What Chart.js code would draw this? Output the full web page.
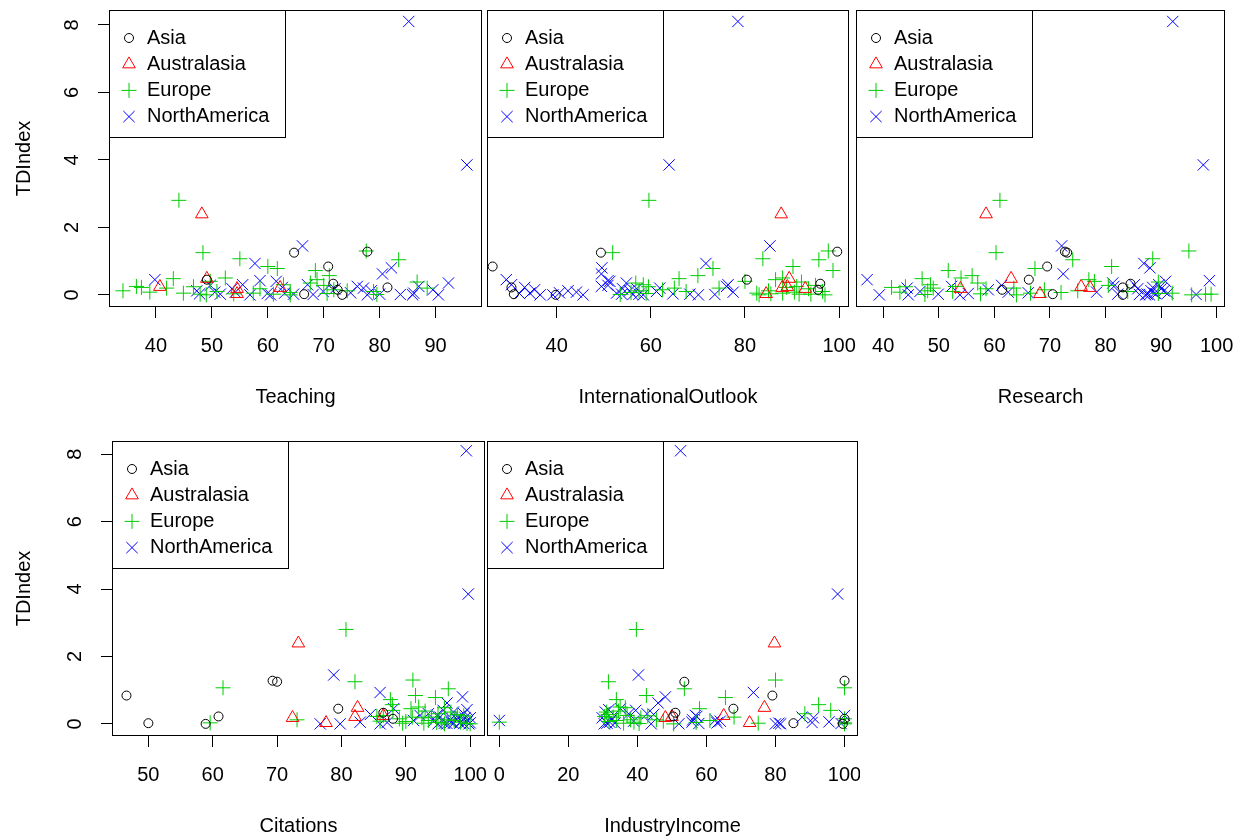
<!DOCTYPE html>
<html>
<head>
<meta charset="utf-8">
<script src="https://cdn.jsdelivr.net/npm/chart.js@4.4.1/dist/chart.umd.min.js"></script>
<style>
html, body { margin: 0; padding: 0; background: #fff; }
body { width: 1244px; height: 840px; position: relative; overflow: hidden; }
canvas { position: absolute; }
</style>
</head>
<body>
<canvas id="c1"></canvas>
<canvas id="c2"></canvas>
<canvas id="c3"></canvas>
<canvas id="c4"></canvas>
<canvas id="c5"></canvas>
<script>
// TDIndex against five THE scores, one point per university, by region
const regions = ['Asia', 'Australasia', 'Europe', 'NorthAmerica'];

const asiaTDIndex   = [1.28, 1.25, 0.84, 0.45, 0.33, 0.22, 0.15, 0.02, 0.00];
const asiaTeaching  = [77.8, 64.7, 70.8, 49.1, 71.7, 81.4, 72.5, 66.5, 73.3];
const asiaIntl      = [99.6, 49.4, 26.4, 80.4, 96.0, 30.4, 95.5, 30.9, 39.8];
const asiaResearch  = [72.7, 73.1, 69.5, 66.2, 84.5, 83.1, 61.4, 70.5, 83.1];
const asiaCitations = [69.3, 70.0, 46.6, 79.5, 86.5, 60.9, 88.0, 50.0, 58.9];
const asiaIndustry  = [100, 53.6, 79.1, 67.8, 51.0, 50.4, 100, 85.2, 99.5];

const ausTDIndex   = [2.39, 0.48, 0.24, 0.21, 0.18, 0.03];
const ausTeaching  = [48.2, 49.1, 40.7, 62.2, 54.5, 54.5];
const ausIntl      = [87.7, 89.4, 89.0, 87.9, 92.8, 84.5];
const ausResearch  = [58.5, 63.0, 75.6, 77.2, 53.9, 68.2];
const ausCitations = [73.3, 82.5, 86.5, 82.1, 72.4, 77.6];
const ausIndustry  = [79.7, 76.8, 65.0, 50.0, 48.1, 72.5];

const euTDIndex = [2.80, 1.30, 1.25, 1.07, 1.04, 0.84, 0.78, 0.72, 0.57, 0.50,
  0.48, 0.45, 0.40, 0.38, 0.35, 0.30, 0.28, 0.25, 0.24, 0.22,
  0.20, 0.20, 0.18, 0.15, 0.12, 0.12, 0.10, 0.10, 0.08, 0.07,
  0.05, 0.05, 0.04, 0.03, 0.02, 0.02, 0.01, 0.00, 0.00];
const euTeaching = [44.1, 77.6, 48.4, 55.0, 83.4, 60.0, 61.7, 68.5, 71.0, 52.4,
  43.1, 68.8, 49.7, 86.7, 67.6, 62.8, 70.0, 36.5, 46.7, 37.4,
  41.9, 88.5, 58.6, 71.8, 34.1, 74.2, 50.9, 78.9, 38.9, 64.0,
  44.9, 57.4, 70.6, 53.9, 61.0, 47.9, 79.5, 64.0, 49.0];
const euIntl = [59.6, 97.7, 51.9, 83.8, 95.7, 90.2, 73.2, 98.7, 70.0, 88.0,
  66.0, 86.5, 80.0, 92.0, 56.8, 58.4, 95.0, 91.0, 59.5, 88.8,
  65.0, 74.5, 93.5, 62.5, 85.0, 57.5, 67.5, 96.5, 90.5, 55.8,
  82.5, 88.0, 59.0, 85.5, 94.0, 91.5, 53.5, 83.0, 97.0];
const euResearch = [61.0, 95.0, 60.3, 88.5, 74.1, 81.1, 67.3, 51.7, 56.0, 54.0,
  47.0, 77.0, 78.0, 89.5, 57.0, 48.5, 80.5, 53.0, 44.0, 41.5,
  63.5, 49.0, 58.5, 69.0, 48.0, 75.0, 84.0, 52.5, 43.0, 72.0,
  66.5, 92.0, 89.5, 57.5, 99.0, 98.0, 47.5, 64.0, 95.5];
const euCitations = [80.7, 91.1, 82.1, 61.6, 96.6, 91.5, 94.6, 87.6, 87.9, 92.0,
  96.0, 90.8, 88.0, 93.0, 97.0, 95.0, 98.0, 86.5, 99.0, 85.5,
  94.0, 91.0, 92.5, 89.0, 96.5, 73.1, 93.5, 97.5, 86.0, 90.0,
  95.5, 98.5, 94.8, 59.6, 89.5, 92.8, 99.5, 96.0, 100];
const euIndustry = [39.7, 80.0, 31.6, 100, 53.6, 42.6, 65.5, 33.9, 92.5, 35.0,
  36.5, 58.0, 96.0, 34.5, 31.0, 88.5, 31.5, 37.0, 43.0, 30.5,
  68.0, 33.0, 41.0, 100, 38.0, 45.5, 34.0, 61.0, 47.5, 31.8,
  0.0, 39.0, 57.0, 100, 36.0, 75.0, 40.5, 50.5, 100];

const naTDIndex = [8.10, 3.85, 1.45, 0.93, 0.80, 0.62, 0.45, 0.42, 0.35, 0.30,
  0.28, 0.25, 0.22, 0.20, 0.18, 0.15, 0.12, 0.10, 0.08, 0.06,
  0.05, 0.04, 0.03, 0.02, 0.02, 0.01, 0.01, 0.00, 0.00, 0.00,
  0.00, 0.05, 0.12, 0.18, 0.30, 0.08, 0.02, 0.25, 0.40, 0.00];
const naTeaching = [85.2, 95.6, 66.2, 57.7, 82.1, 80.5, 39.8, 58.6, 92.3, 67.1,
  49.7, 76.0, 62.6, 77.1, 53.6, 89.5, 47.3, 69.9, 54.2, 74.8,
  86.1, 59.9, 47.8, 64.6, 51.5, 83.7, 68.1, 85.9, 56.8, 77.8,
  60.5, 63.0, 78.5, 72.0, 55.5, 50.5, 80.0, 87.0, 61.5, 90.5];
const naIntl = [78.5, 63.9, 85.3, 71.7, 49.6, 49.5, 29.3, 50.9, 54.8, 30.4,
  50.9, 76.1, 33.2, 61.9, 57.0, 35.3, 42.4, 61.2, 44.2, 40.6,
  52.7, 32.1, 64.7, 68.3, 53.8, 73.6, 56.2, 39.2, 45.6, 70.1,
  58.4, 34.3, 55.5, 54.0, 76.4, 77.5, 57.5, 49.5, 51.3, 36.5];
const naResearch = [92.1, 97.6, 72.1, 86.9, 88.0, 72.4, 37.1, 98.7, 81.3, 85.2,
  61.3, 52.3, 88.5, 44.3, 90.0, 58.9, 88.2, 46.6, 78.4, 66.1,
  91.2, 55.3, 89.1, 49.9, 82.2, 86.1, 96.3, 53.8, 39.3, 44.5,
  87.9, 88.8, 90.5, 85.8, 89.6, 62.5, 87.5, 81.5, 90.8, 87.2];
const naCitations = [99.4, 99.7, 78.8, 86.0, 98.8, 96.4, 88.1, 99.5, 97.4, 99.0,
  84.5, 92.2, 98.4, 95.3, 100, 97.9, 96.9, 91.2, 94.3, 99.5,
  82.9, 87.1, 100, 98.4, 97.4, 96.4, 99.0, 76.7, 79.8, 86.0,
  95.0, 97.0, 98.0, 99.2, 93.5, 98.6, 96.0, 94.8, 95.8, 99.8];
const naIndustry = [52.5, 98.0, 40.3, 73.6, 48.1, 46.0, 35.1, 31.7, 30.7, 42.8,
  44.7, 56.8, 57.2, 87.7, 29.8, 32.7, 62.6, 0.0, 38.9, 95.5,
  55.8, 90.6, 63.1, 81.0, 31.2, 99.0, 57.8, 30.4, 80.0, 44.0,
  52.0, 32.0, 56.0, 91.0, 37.5, 64.0, 33.5, 100, 39.5, 81.5];

const teachingTicks = [40, 50, 60, 70, 80, 90];
const intlTicks = [40, 60, 80, 100];
const researchTicks = [40, 50, 60, 70, 80, 90, 100];
const citationsTicks = [50, 60, 70, 80, 90, 100];
const industryTicks = [0, 20, 40, 60, 80, 100];
const tdTicks = [0, 2, 4, 6, 8];

const series = [
  {TDIndex: asiaTDIndex, Teaching: asiaTeaching, InternationalOutlook: asiaIntl,
   Research: asiaResearch, Citations: asiaCitations, IndustryIncome: asiaIndustry},
  {TDIndex: ausTDIndex, Teaching: ausTeaching, InternationalOutlook: ausIntl,
   Research: ausResearch, Citations: ausCitations, IndustryIncome: ausIndustry},
  {TDIndex: euTDIndex, Teaching: euTeaching, InternationalOutlook: euIntl,
   Research: euResearch, Citations: euCitations, IndustryIncome: euIndustry},
  {TDIndex: naTDIndex, Teaching: naTeaching, InternationalOutlook: naIntl,
   Research: naResearch, Citations: naCitations, IndustryIncome: naIndustry}
];

// R base palette look
const colors = ['#000000', '#FF0000', '#00CD00', '#0000FF'];
const shapes = ['circle', 'triangle', 'cross', 'crossRot'];
const radii = [4.5, 7.3, 7.5, 8];
const FONT = "'Liberation Sans', Arial, sans-serif";

const rFrame = {
  id: 'rFrame',
  afterDraw(chart) {
    const {ctx, chartArea: a} = chart;
    ctx.save();
    ctx.strokeStyle = '#000';
    ctx.lineWidth = 1;
    ctx.strokeRect(a.left + 0.5, a.top + 0.5, a.right - a.left - 1, a.bottom - a.top - 1);
    // legend box, top left like legend('topleft', ...)
    ctx.strokeRect(a.left + 0.5, a.top + 0.5, 176, 127);
    ctx.font = '20px ' + FONT;
    ctx.textBaseline = 'middle';
    chart.data.datasets.forEach((ds, i) => {
      const cy = a.top + 28 + i * 26.2;
      ctx.strokeStyle = ds.pointBorderColor;
      ctx.fillStyle = 'rgba(0,0,0,0)';
      ctx.lineWidth = 1;
      Chart.helpers.drawPoint(ctx, {pointStyle: ds.pointStyle, radius: ds.pointRadius, rotation: 0, borderWidth: 1}, a.left + 20, cy);
      ctx.fillStyle = '#000';
      ctx.fillText(ds.label, a.left + 38, cy);
    });
    ctx.restore();
  }
};

const panels = [
  {id: 'c1', field: 'Teaching', ticks: teachingTicks, min: 31.6, max: 98.3,
   box: [0, 0, 484, 411], pad: {left: 0, right: 2, top: 10, bottom: 0}, yWidth: 109, yMax: 8.44},
  {id: 'c2', field: 'InternationalOutlook', ticks: intlTicks, min: 25.2, max: 102.1,
   box: [484, 0, 375, 411], pad: {left: 3, right: 10, top: 10, bottom: 0}, yWidth: 0, yMax: 8.44},
  {id: 'c3', field: 'Research', ticks: researchTicks, min: 35.1, max: 101.5,
   box: [852, 0, 392, 411], pad: {left: 4, right: 19, top: 10, bottom: 0}, yWidth: 0, yMax: 8.44},
  {id: 'c4', field: 'Citations', ticks: citationsTicks, min: 44.35, max: 102.3,
   box: [0, 431, 487, 409], pad: {left: 0, right: 2, top: 10, bottom: 0}, yWidth: 112, yMax: 8.39},
  {id: 'c5', field: 'IndustryIncome', ticks: industryTicks, min: -3.57, max: 103.9,
   box: [485, 431, 375, 409], pad: {left: 2, right: 2, top: 10, bottom: 0}, yWidth: 0, yMax: 8.39}
];

panels.forEach(p => {
  const cv = document.getElementById(p.id);
  cv.width = p.box[2];
  cv.height = p.box[3];
  cv.style.left = p.box[0] + 'px';
  cv.style.top = p.box[1] + 'px';

  const datasets = regions.map((name, i) => ({
    label: name,
    data: series[i][p.field].map((x, k) => ({x: x, y: series[i].TDIndex[k]})),
    pointStyle: shapes[i],
    pointRadius: radii[i],
    pointBorderColor: colors[i],
    pointBackgroundColor: 'rgba(0,0,0,0)',
    pointBorderWidth: 1
  }));

  new Chart(cv, {
    type: 'scatter',
    data: {datasets: datasets},
    options: {
      responsive: false,
      animation: false,
      devicePixelRatio: 1,
      events: [],
      layout: {padding: p.pad, autoPadding: false},
      plugins: {legend: {display: false}, tooltip: {enabled: false}},
      scales: {
        x: {
          type: 'linear', position: 'bottom', min: p.min, max: p.max,
          afterBuildTicks: s => { s.ticks = p.ticks.map(v => ({value: v})); },
          afterFit: s => { s.height = 104; s.paddingLeft = 0; s.paddingRight = 0; },
          grid: {drawOnChartArea: false, drawTicks: true, tickLength: 11, color: '#000', lineWidth: 1},
          border: {display: false},
          ticks: {color: '#000', font: {family: FONT, size: 20}, padding: 16, maxRotation: 0,
                  autoSkip: false, callback: v => String(v)},
          title: {display: true, text: p.field, color: '#000', font: {family: FONT, size: 20},
                  padding: {top: 0, bottom: 2}}
        },
        y: {
          type: 'linear', position: 'left', min: -0.36, max: p.yMax,
          display: p.yWidth > 0,
          afterBuildTicks: s => { s.ticks = tdTicks.map(v => ({value: v})); },
          afterFit: s => { if (p.yWidth > 0) { s.width = p.yWidth; s.paddingTop = 0; s.paddingBottom = 0; } },
          grid: {drawOnChartArea: false, drawTicks: true, tickLength: 11, color: '#000', lineWidth: 1},
          border: {display: false},
          ticks: {color: '#000', font: {family: FONT, size: 20}, padding: 20, minRotation: 90, maxRotation: 90,
                  crossAlign: 'center', autoSkip: false, callback: v => String(v)},
          title: {display: true, text: 'TDIndex', color: '#000', font: {family: FONT, size: 20},
                  padding: {top: 12, bottom: 0}}
        }
      }
    },
    plugins: [rFrame]
  });
});
</script>
</body>
</html>
